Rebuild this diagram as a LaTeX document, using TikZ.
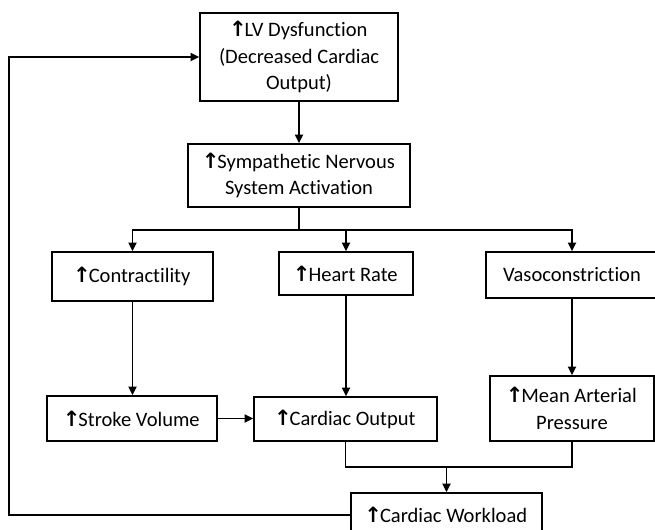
\documentclass[tikz,border=0pt]{standalone}
\usepackage{fontspec}
\setmainfont{Carlito}[Ligatures={NoCommon,NoRare,NoDiscretionary}]
\newfontfamily\arrowfont{DejaVu Sans}
\usetikzlibrary{arrows.meta}
\newcommand{\upar}{{\arrowfont\bfseries\fontsize{15pt}{15pt}\selectfont\kern-1pt↑}\kern-1.5pt}
\begin{document}
\begin{tikzpicture}[
    box/.style={draw, line width=1.25pt, align=center, inner sep=2pt,
                font=\fontsize{14.6pt}{18.8pt}\selectfont},
    arr/.style={-{Triangle[length=0.21cm, width=0.2cm]}, line width=1.25pt},
    link/.style={line width=1.25pt},
  ]
  \useasboundingbox (0,0) rectangle (16.375,-13.225);
  \node[box, minimum width=4.95cm,  minimum height=2.2cm]   (lv)    at (7.475,-1.425)   {\upar LV Dysfunction\\(Decreased Cardiac\\Output)};
  \node[box, minimum width=5.55cm,  minimum height=1.575cm] (sns)   at (7.475,-4.3875)  {\upar Sympathetic Nervous\\System Activation};
  \node[box, minimum width=4.025cm, minimum height=1.225cm] (contr) at (3.3125,-6.9125) {\upar Contractility};
  \node[box, minimum width=3.35cm,  minimum height=1.075cm] (hr)    at (8.65,-6.8375)   {\upar Heart Rate};
  \node[box, minimum width=4.3cm,   minimum height=1.15cm]  (vaso)  at (14.3,-6.875)    {Vasoconstriction};
  \node[box, minimum width=4.25cm,  minimum height=1.125cm] (sv)    at (3.3,-10.4625)   {\upar Stroke Volume};
  \node[box, minimum width=4.575cm, minimum height=1.1cm]   (co)    at (8.6375,-10.475) {\upar Cardiac Output};
  \node[box, minimum width=4.1cm,   minimum height=1.625cm] (map)   at (14.3,-10.2125)  {\upar Mean Arterial\\Pressure};
  \node[box, minimum width=4.775cm, minimum height=1.1cm]   (cw)    at (11.1625,-12.875) {\upar Cardiac Workload};
  \coordinate (split) at (7.475,-5.75);
  \coordinate (join)  at (11.1625,-11.675);
  \coordinate (fb)    at (0.225,-7);
  \draw[arr] (lv) -- (sns);
  \draw[link] (sns) -- (split);
  \draw[arr] (split) -| (contr);
  \draw[arr] (split) -| (hr);
  \draw[arr] (split) -| (vaso);
  \draw[arr] (contr) -- (contr |- sv.north);
  \draw[arr] (hr) -- (hr |- co.north);
  \draw[arr] (vaso) -- (map);
  \draw[arr] (sv.east) -- (sv.east -| co.west);
  \draw[link] (co.south) |- (join);
  \draw[link] (map.south) |- (join);
  \draw[arr] (join) -- (cw);
  % feedback loop back to the top
  \draw[arr] (cw.west) -| (fb) |- (lv.west);
\end{tikzpicture}
\end{document}
